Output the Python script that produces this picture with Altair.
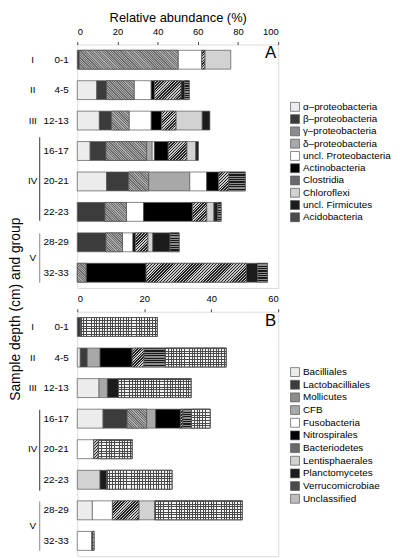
import altair as alt
import pandas as pd

FONT = "Liberation Sans"

depths = ["0-1", "4-5", "12-13", "16-17", "20-21", "22-23", "28-29", "32-33"]

# ---- Panel A (relative abundance, %, 0-100 axis) ----
a_categories = ["α–proteobacteria", "β–proteobacteria", "γ–proteobacteria", "δ–proteobacteria",
                "uncl. Proteobacteria", "Actinobacteria", "Clostridia", "Chloroflexi",
                "uncl. Firmicutes", "Acidobacteria"]
a_alpha = [0, 9.7, 11.0, 6.4, 14.6, 0, 0, 0]
a_beta = [1.0, 4.9, 6.1, 7.9, 11.0, 13.8, 14.3, 0]
a_gamma = [49.2, 13.7, 8.7, 20.2, 9.9, 10.7, 8.2, 4.4]
a_delta = [0, 0, 0, 2.8, 20.5, 0, 0, 0]
a_uncl_proteo = [11.8, 8.5, 11.0, 1.1, 8.4, 8.5, 5.2, 0]
a_actino = [0, 1.6, 5.2, 6.9, 6.0, 24.3, 1.2, 29.9]
a_clostridia = [1.5, 13.2, 7.1, 9.2, 5.0, 7.1, 6.2, 49.8]
a_chloroflexi = [12.9, 0, 13.1, 4.5, 0, 3.6, 2.5, 0]
a_uncl_firm = [0, 1.9, 3.8, 1.3, 0, 2.0, 8.6, 5.6]
a_acido = [0, 2.2, 0, 0, 8.2, 1.6, 4.5, 5.0]
a_series = [a_alpha, a_beta, a_gamma, a_delta, a_uncl_proteo, a_actino,
            a_clostridia, a_chloroflexi, a_uncl_firm, a_acido]
a_ticks = [0, 20, 40, 60, 80, 100]

# ---- Panel B (0-60 axis) ----
b_categories = ["Bacilliales", "Lactobacilliales", "Mollicutes", "CFB", "Fusobacteria",
                "Nitrospirales", "Bacteriodetes", "Lentisphaerales", "Planctomycetes",
                "Verrucomicrobiae", "Unclassified"]
b_bacilliales = [0, 0.9, 6.5, 7.7, 0, 0, 4.5, 0]
b_lacto = [1.0, 2.1, 0, 7.2, 0, 0, 0, 0]
b_mollicutes = [0, 0, 0, 5.8, 0, 0, 0, 0]
b_cfb = [0, 3.8, 2.5, 2.7, 0, 0, 0, 0]
b_fuso = [0, 0, 0, 0, 4.9, 0, 6.0, 4.4]
b_nitro = [0, 9.6, 0, 7.4, 0, 0, 0, 0]
b_bacteriodetes = [0, 3.5, 0, 0.7, 1.4, 0, 7.9, 0]
b_lentis = [0, 0, 0, 0, 0, 6.8, 4.8, 0]
b_plancto = [0, 0, 3.3, 0, 0, 2.0, 0, 0]
b_verruco = [0, 6.4, 0, 2.6, 0, 0, 0, 0]
b_unclass = [22.9, 18.2, 21.7, 5.6, 10.1, 19.5, 26.1, 0.6]
b_series = [b_bacilliales, b_lacto, b_mollicutes, b_cfb, b_fuso, b_nitro,
            b_bacteriodetes, b_lentis, b_plancto, b_verruco, b_unclass]
b_ticks = [0, 10, 20, 30, 40, 50, 60]

# group labels and brackets
groups = ["I", "II", "III", "IV"]
group_rows = ["0-1", "4-5", "12-13", "20-21"]
group_v = ["V"]
group_v_row = ["28-29"]
bracket_iv = (["16-17"], ["22-23"])
bracket_v = (["28-29"], ["32-33"])
panel_letters = ["A", "B"]

# grey tones standing in for the fill patterns
a_greys = ["#ececec", "#3c3c3c", "#8c8c8c", "#a8a8a8", "#ffffff", "#000000",
           "#6a6a6a", "#d2d2d2", "#1c1c1c", "#4a4a4a"]
b_greys = ["#ececec", "#3c3c3c", "#8c8c8c", "#a8a8a8", "#ffffff", "#000000",
           "#6a6a6a", "#d2d2d2", "#1c1c1c", "#4a4a4a", "#bdbdbd"]

W = 203
PAD_IN = 0.38
PAD_OUT = 0.19
STROKE = "#555"
SW = 0.7


def stops_for(n, c1, c2, duty):
    stops = []
    for i in range(n):
        a = i / n
        b = (i + duty) / n
        c = (i + 1) / n
        stops += [{"offset": a, "color": c1}, {"offset": b, "color": c1},
                  {"offset": b, "color": c2}, {"offset": c, "color": c2}]
    return stops


def hstripes(n, c1, c2, duty=0.5):
    return {"gradient": "linear", "x1": 0, "y1": 0, "x2": 0, "y2": 1,
            "stops": stops_for(n, c1, c2, duty)}


def vstripes(w, period, c1, c2, duty=0.35):
    n = max(1, round(w / period))
    return {"gradient": "linear", "x1": 0, "y1": 0, "x2": 1, "y2": 0,
            "stops": stops_for(n, c1, c2, duty)}


def diag(w, h, period, c1, c2, duty=0.5, forward=True):
    # 45 degree hatch inside a w x h box (gradient in bounding-box units)
    r = h / w
    a = (1 + r) / (1 + r * r)
    b = a * r
    n = max(1, round((w + h) / period))
    if forward:   # "/" lines
        return {"gradient": "linear", "x1": 0, "y1": 0, "x2": a, "y2": b,
                "stops": stops_for(n, c1, c2, duty)}
    # "\" lines
    return {"gradient": "linear", "x1": 0, "y1": 1, "x2": a, "y2": 1 - b,
            "stops": stops_for(n, c1, c2, duty)}


def stacked_df(cats, series):
    rows = []
    for di, d in enumerate(depths):
        acc = 0.0
        for idx, (cat, vals) in enumerate(zip(cats, series)):
            v = vals[di]
            if v > 0:
                rows.append({"depth": d, "cat": cat, "idx": idx, "value": v,
                             "x0": acc, "x1": acc + v})
                acc += v
    return pd.DataFrame(rows)


def panel(cats, series, greys, stripe_cats, hatch_cats, light_hatch_cats, grid_cats,
          xmax, ticks, height, letter, legend_y, row_pad, xtitle, ytitle, iv_off):
    df = stacked_df(cats, series)
    ppu = W / xmax
    bar_h = height / len(depths) * (1 - PAD_IN)
    ysc = alt.Scale(domain=depths, paddingInner=PAD_IN, paddingOuter=PAD_OUT)
    xsc = alt.Scale(domain=[0, xmax], nice=False)
    if ytitle:
        yaxis = alt.Axis(title=ytitle, domain=False, ticks=False, labelPadding=9,
                         labelFontSize=10, labelColor="#000", labelFont=FONT,
                         titleAngle=270, titleX=-69, titleY=267, titleAlign="center",
                         titleBaseline="top", titleFontSize=14, titleFontWeight="normal",
                         titleFont=FONT, titleColor="#000")
    else:
        yaxis = alt.Axis(title=None, domain=False, ticks=False, labelPadding=9,
                         labelFontSize=10, labelColor="#000", labelFont=FONT)
    xaxis_kw = dict(orient="top", values=ticks, grid=False, domain=False, tickSize=3,
                    tickColor="#444", labelPadding=5, labelFontSize=9.5, labelColor="#000",
                    labelFont=FONT)
    if xtitle:
        xaxis = alt.Axis(title=xtitle, titleFontSize=13, titleFontWeight="normal",
                         titleFont=FONT, titleColor="#000", titlePadding=2, **xaxis_kw)
    else:
        xaxis = alt.Axis(title=None, **xaxis_kw)

    bars = alt.Chart(df).mark_bar(stroke=STROKE, strokeWidth=SW).encode(
        x=alt.X("x0:Q", scale=xsc, axis=xaxis),
        x2="x1:Q",
        y=alt.Y("depth:N", sort=depths, scale=ysc, axis=yaxis),
        color=alt.Color("cat:N", scale=alt.Scale(domain=cats, range=greys),
                        legend=alt.Legend(title=None, orient="none", legendX=215,
                                          legendY=legend_y, symbolType="square",
                                          symbolSize=81, symbolStrokeColor=STROKE,
                                          symbolStrokeWidth=SW, symbolOpacity=1,
                                          labelFontSize=10, labelFont=FONT,
                                          labelColor="#000", labelOffset=3,
                                          rowPadding=row_pad, padding=0)),
    )
    layers = [bars]

    def seg_layer(row_df, fill):
        return alt.Chart(row_df).mark_bar(fill=fill, stroke=STROKE, strokeWidth=SW).encode(
            x=alt.X("x0:Q", scale=xsc), x2="x1:Q",
            y=alt.Y("depth:N", sort=depths, scale=ysc))

    def each_segment(name):
        sub = df[df["cat"] == name]
        for i in range(len(sub)):
            one = sub.iloc[[i]]
            yield one, float(one["value"].iloc[0]) * ppu

    for name in stripe_cats:
        sub = df[df["cat"] == name]
        layers.append(seg_layer(sub, hstripes(8, "#1a1a1a", "#8c8c8c")))
    for name in hatch_cats:
        for one, w in each_segment(name):
            layers.append(seg_layer(one, diag(w, bar_h, 2.9, "#222222", "#c8c8c8")))
    for name in light_hatch_cats:
        for one, w in each_segment(name):
            layers.append(seg_layer(one, diag(w, bar_h, 2.4, "#6c6c6c", "#ababab",
                                              forward=False)))
    for name in grid_cats:
        for one, w in each_segment(name):
            layers.append(seg_layer(one, vstripes(w, 2.7, "#4a4a4a", "#f4f4f4")))
            layers.append(seg_layer(one, hstripes(7, "#4a4a4a", "rgba(255,255,255,0)", 0.35)))

    gl = alt.Chart(pd.DataFrame({"depth": group_rows, "g": groups})).mark_text(
        fontSize=10, font=FONT, color="#000", align="center", baseline="middle"
    ).encode(y=alt.Y("depth:N", sort=depths, scale=ysc), x=alt.value(-45), text="g:N")
    gv = alt.Chart(pd.DataFrame({"depth": group_v_row, "g": group_v})).mark_text(
        fontSize=10, font=FONT, color="#000", align="center", baseline="middle",
        dy=15.4
    ).encode(y=alt.Y("depth:N", sort=depths, scale=ysc), x=alt.value(-45), text="g:N")
    r4 = alt.Chart(pd.DataFrame({"depth": bracket_iv[0], "depth_end": bracket_iv[1]})).mark_rule(
        color="#555", strokeWidth=1.2, yOffset=iv_off[0], y2Offset=iv_off[1]
    ).encode(y=alt.Y("depth:N", sort=depths, scale=ysc), y2="depth_end:N", x=alt.value(-38))
    r5 = alt.Chart(pd.DataFrame({"depth": bracket_v[0], "depth_end": bracket_v[1]})).mark_rule(
        color="#9a9a9a", strokeWidth=1.2, yOffset=-9, y2Offset=10
    ).encode(y=alt.Y("depth:N", sort=depths, scale=ysc), y2="depth_end:N", x=alt.value(-38))
    lt = alt.Chart(pd.DataFrame({"t": [letter]})).mark_text(
        fontSize=17, font=FONT, color="#000", align="right", baseline="top"
    ).encode(text="t:N", x=alt.value(W - 2), y=alt.value(1))
    layers += [gl, gv, r4, r5, lt]
    return alt.layer(*layers).properties(width=W, height=height)


chart_a = panel(a_categories, a_series, a_greys, ["Acidobacteria"], ["Clostridia"],
                ["γ–proteobacteria"], [],
                100, a_ticks, 246, panel_letters[0], 58, 0.4,
                "Relative abundance (%)", "Sample depth (cm) and group", (-14, 9))
chart_b = panel(b_categories, b_series, b_greys, ["Verrucomicrobiae"], ["Bacteriodetes"],
                ["Mollicutes"], ["Unclassified"], 60, b_ticks, 247, panel_letters[1], 56, 0.8,
                None, None, (-9, 11))

chart = alt.vconcat(chart_a, chart_b, spacing=24, bounds="flush").resolve_scale(
    color="independent", x="independent", y="independent"
).properties(
    padding={"left": 0, "top": 0, "right": 0, "bottom": 0}
).configure_view(stroke="#777", strokeWidth=1).configure(font=FONT)

chart.save("out.html", embed_options={"renderer": "svg", "actions": False})
